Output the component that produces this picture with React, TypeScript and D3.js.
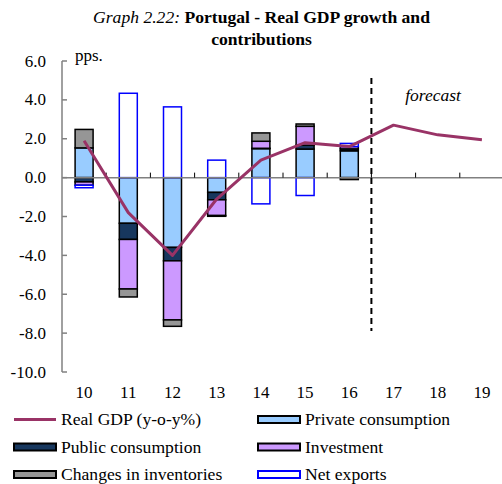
import React from 'react';
import * as d3 from 'd3';

const years = ['10', '11', '12', '13', '14', '15', '16', '17', '18', '19'];
const gdp = [1.9, -1.8, -4.0, -1.1, 0.9, 1.8, 1.6, 2.7, 2.2, 1.95];
const privateCons = [1.53, -2.35, -3.59, -0.76, 1.49, 1.47, 1.38, 0, 0, 0];
const publicCons = [-0.22, -0.83, -0.69, -0.38, 0.02, 0.2, 0.1, 0, 0, 0];
const investment = [-0.17, -2.55, -3.04, -0.81, 0.36, 0.97, 0.12, 0, 0, 0];
const inventories = [0.95, -0.41, -0.33, -0.04, 0.43, 0.12, -0.1, 0, 0, 0];
const netExports = [-0.13, 4.34, 3.64, 0.9, -1.35, -0.92, 0.16, 0, 0, 0];
const yTicks = [6, 4, 2, 0, -2, -4, -6, -8, -10];

const series = [
  { key: 'priv', name: 'Private consumption', values: privateCons, fill: '#99CCFF', stroke: '#000000' },
  { key: 'pub', name: 'Public consumption', values: publicCons, fill: '#17375E', stroke: '#000000' },
  { key: 'inv', name: 'Investment', values: investment, fill: '#CC99FF', stroke: '#000000' },
  { key: 'stock', name: 'Changes in inventories', values: inventories, fill: '#969696', stroke: '#000000' },
  { key: 'net', name: 'Net exports', values: netExports, fill: '#FFFFFF', stroke: '#0000FF' },
];

const font = "'Liberation Serif', 'Times New Roman', serif";

export default function App() {
  const width = 502;
  const height = 484;
  const left = 62;
  const right = 504;

  const x = d3.scaleBand().domain(years).range([left, right]);
  const y = d3.scaleLinear().domain([-10, 6]).range([372, 61]);
  const barW = 18;

  // tabla para d3.stack
  const table = years.map((yr, i) => {
    const row: any = { year: yr };
    series.forEach(s => { row[s.key] = s.values[i]; });
    return row;
  });
  const stacked = d3.stack().keys(series.map(s => s.key)).offset(d3.stackOffsetDiverging)(table);

  const line = d3.line<number>()
    .x((d, i) => (x(years[i]) as number) + x.bandwidth() / 2)
    .y(d => y(d));

  const forecastX = (x('17') as number);

  const legend = [
    { name: 'Real GDP (y-o-y%)', type: 'line', col: 0, row: 0 },
    { name: 'Private consumption', type: 'priv', col: 1, row: 0 },
    { name: 'Public consumption', type: 'pub', col: 0, row: 1 },
    { name: 'Investment', type: 'inv', col: 1, row: 1 },
    { name: 'Changes in inventories', type: 'stock', col: 0, row: 2 },
    { name: 'Net exports', type: 'net', col: 1, row: 2 },
  ];

  return (
    <svg width={width} height={height} style={{ position: 'absolute', left: 0, top: 0, background: '#fff', fontFamily: font }}>
      <text x={261.5} y={23} textAnchor="middle" fontSize={17.6}>
        <tspan fontStyle="italic">Graph 2.22: </tspan>
        <tspan fontWeight="bold">Portugal - Real GDP growth and</tspan>
      </text>
      <text x={261.5} y={45} textAnchor="middle" fontSize={17.6} fontWeight="bold">contributions</text>

      {/* eje Y */}
      <line x1={left} x2={left} y1={y(6)} y2={y(-10)} stroke="#808080" strokeWidth={1.5} />
      {yTicks.map(t => (
        <g key={t}>
          <line x1={left} x2={left + 5} y1={y(t)} y2={y(t)} stroke="#808080" strokeWidth={1.5} />
          <text x={46} y={y(t) + 5.5} textAnchor="end" fontSize={17}>{t.toFixed(1)}</text>
        </g>
      ))}
      <text x={75} y={61} fontSize={17}>pps.</text>

      {/* barras */}
      {stacked.map((layer, li) => {
        const s = series[li];
        return (
          <g key={s.key}>
            {layer.map((d, i) => {
              if (Math.abs(d[1] - d[0]) < 1e-9) return null;
              const cx = (x(years[i]) as number) + x.bandwidth() / 2;
              const y0 = y(Math.max(d[0], d[1]));
              const y1 = y(Math.min(d[0], d[1]));
              return (
                <rect key={i} x={cx - barW / 2} y={y0} width={barW} height={y1 - y0}
                  fill={s.fill} stroke={s.stroke} strokeWidth={1.5} />
              );
            })}
          </g>
        );
      })}

      {/* eje X */}
      <line x1={left} x2={right} y1={y(0)} y2={y(0)} stroke="#808080" strokeWidth={1.5} />
      {years.slice(1).map(yr => (
        <line key={yr} x1={x(yr)} x2={x(yr)} y1={y(0)} y2={y(0) - 5} stroke="#000" strokeWidth={1} />
      ))}
      {years.map(yr => (
        <text key={yr} x={(x(yr) as number) + x.bandwidth() / 2} y={398} textAnchor="middle" fontSize={17}>{yr}</text>
      ))}

      <line x1={forecastX} x2={forecastX} y1={78} y2={331} stroke="#000" strokeWidth={2} strokeDasharray="6,4" />
      <text x={433} y={101} textAnchor="middle" fontSize={17.5} fontStyle="italic">forecast</text>

      <path d={line(gdp) || ''} fill="none" stroke="#993366" strokeWidth={3} strokeLinejoin="round" />

      {/* leyenda */}
      {legend.map(l => {
        const lx = l.col === 0 ? 14 : 258;
        const ly = 419.5 + l.row * 27.5;
        const s = series.find(ss => ss.key === l.type);
        return (
          <g key={l.name}>
            {l.type === 'line'
              ? <line x1={lx} x2={lx + 42} y1={ly} y2={ly} stroke="#993366" strokeWidth={3} />
              : <rect x={lx} y={ly - 3.5} width={42} height={7} fill={s!.fill} stroke={s!.stroke} strokeWidth={2} />}
            <text x={lx + 47} y={ly + 5.5} fontSize={17.6}>{l.name}</text>
          </g>
        );
      })}
    </svg>
  );
}
